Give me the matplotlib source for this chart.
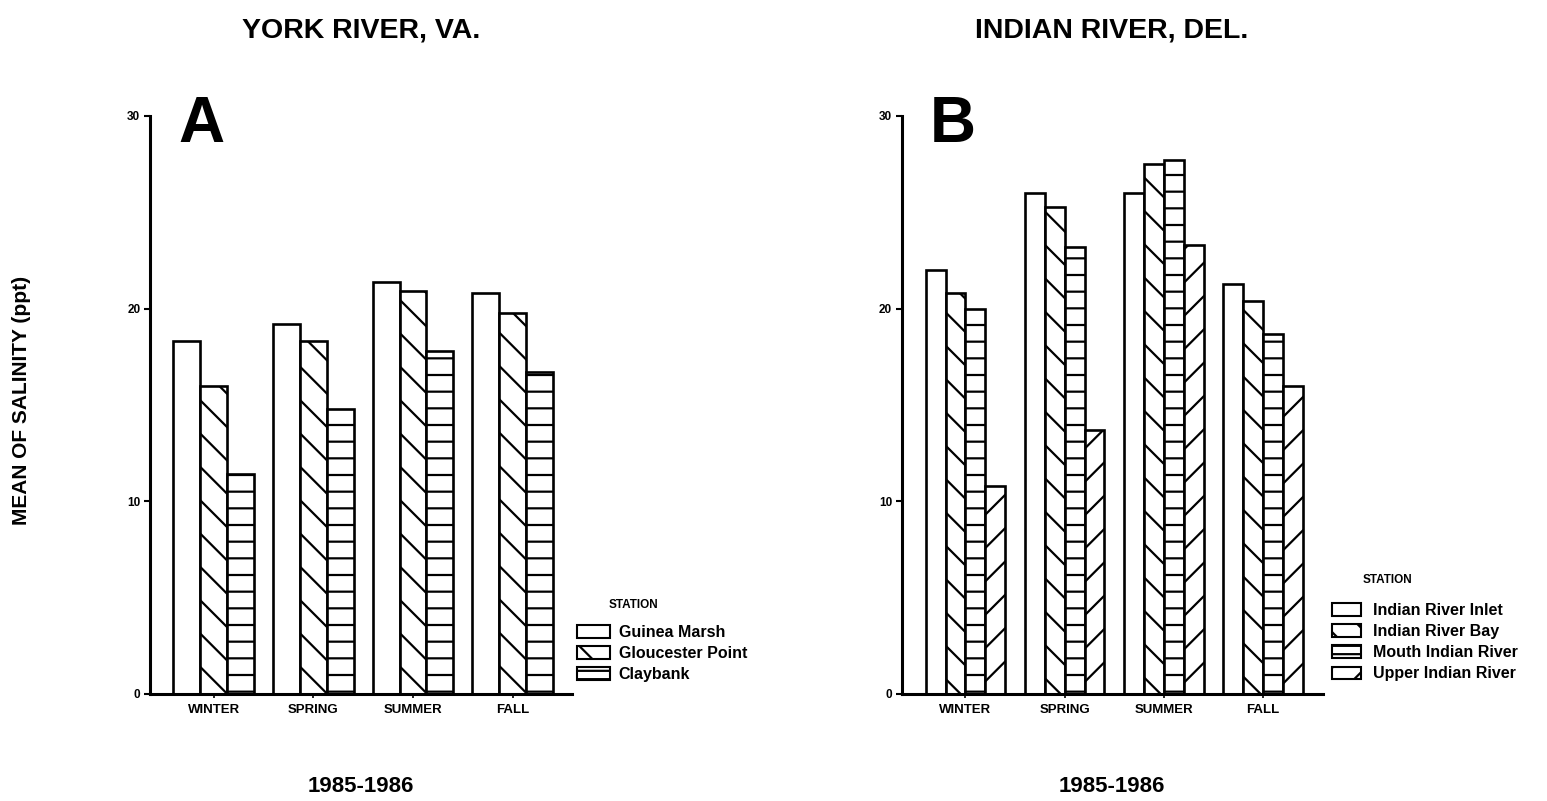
import numpy as np
import matplotlib
matplotlib.use("Agg")
import matplotlib.pyplot as plt
from matplotlib.patches import Patch

plt.rcParams['font.family'] = ['Liberation Sans', 'DejaVu Sans']
plt.rcParams['hatch.linewidth'] = 1.6
plt.rcParams['hatch.color'] = 'black'

seasons = ["WINTER", "SPRING", "SUMMER", "FALL"]

# York River, VA (panel A)
york_stations = ["Guinea Marsh", "Gloucester Point", "Claybank"]
guinea_marsh = [18.3, 19.2, 21.4, 20.8]
gloucester_point = [16.0, 18.3, 20.9, 19.8]
claybank = [11.4, 14.8, 17.8, 16.7]

# Indian River, Del. (panel B)
indian_stations = ["Indian River Inlet", "Indian River Bay", "Mouth Indian River", "Upper Indian River"]
ir_inlet = [22.0, 26.0, 26.0, 21.3]
ir_bay = [20.8, 25.3, 27.5, 20.4]
ir_mouth = [20.0, 23.2, 27.7, 18.7]
ir_upper = [10.8, 13.7, 23.3, 16.0]

hatches = ['', '\\', '-', '/']
legend_hatches = ['', '\\', '--', '/']


def draw_panel(ax, series, width, letter):
    x = np.arange(len(seasons))
    n = len(series)
    for i, vals in enumerate(series):
        off = (i - (n - 1) / 2) * width
        ax.bar(x + off, vals, width, facecolor='white', edgecolor='black',
               linewidth=1.9, hatch=hatches[i])
    ax.set_ylim(0, 30)
    ax.set_xlim(-0.64, 3.6)
    ax.set_yticks([0, 10, 20, 30])
    ax.set_yticklabels(['0', '10', '20', '30'], fontsize=8.5, fontweight='bold')
    ax.set_xticks(x)
    ax.set_xticklabels(seasons, fontsize=9.5, fontweight='bold')
    ax.tick_params(axis='y', length=4.5, width=1.5, pad=2.5)
    ax.tick_params(axis='x', length=3, width=1.2, pad=4)
    for s in ['top', 'right']:
        ax.spines[s].set_visible(False)
    for s in ['left', 'bottom']:
        ax.spines[s].set_linewidth(2.2)
    ax.text(0.066, 0.955, letter, transform=ax.transAxes, fontsize=46,
            fontweight='bold', va='baseline', ha='left')


def station_legend(names, anchor, hlen, pad):
    handles = [Patch(facecolor='white', edgecolor='black', linewidth=1.5,
                     hatch=legend_hatches[i], label=nm) for i, nm in enumerate(names)]
    fig.legend(handles=handles, loc='upper left', bbox_to_anchor=anchor,
               frameon=False, prop={'size': 11.5, 'weight': 'bold'},
               handlelength=hlen, handleheight=0.8, handletextpad=pad,
               labelspacing=0.38, borderpad=0, borderaxespad=0)


fig = plt.figure(figsize=(15.47, 8.01), dpi=100)
axA = fig.add_axes([0.097, 0.1336, 0.273, 0.7216])
axB = fig.add_axes([0.583, 0.1336, 0.272, 0.7216])

draw_panel(axA, [guinea_marsh, gloucester_point, claybank], 0.27, 'A')
draw_panel(axB, [ir_inlet, ir_bay, ir_mouth, ir_upper], 0.2, 'B')

station_legend(york_stations, (577 / 1547, 1 - 625 / 801), 2.05, 0.56)
station_legend(indian_stations, (1332 / 1547, 1 - 603 / 801), 1.8, 0.75)

fig.text(609 / 1547, 1 - 605 / 801, "STATION", fontsize=8.5, fontweight='bold', va='center', ha='left')
fig.text(1363 / 1547, 1 - 580 / 801, "STATION", fontsize=8.5, fontweight='bold', va='center', ha='left')

fig.text(361 / 1547, 1 - 31 / 801, "YORK RIVER, VA.", fontsize=20.5, fontweight='bold', ha='center', va='center')
fig.text(1112 / 1547, 1 - 31 / 801, "INDIAN RIVER, DEL.", fontsize=20.5, fontweight='bold', ha='center', va='center')

fig.text(361 / 1547, 1 - 787 / 801, "1985-1986", fontsize=16, fontweight='bold', ha='center', va='center')
fig.text(1112 / 1547, 1 - 787 / 801, "1985-1986", fontsize=16, fontweight='bold', ha='center', va='center')

fig.text(22 / 1547, 1 - 400 / 801, "MEAN OF SALINITY (ppt)", fontsize=15, fontweight='bold',
         rotation=90, ha='center', va='center')

fig.savefig("out.png", dpi=100, facecolor='white')
